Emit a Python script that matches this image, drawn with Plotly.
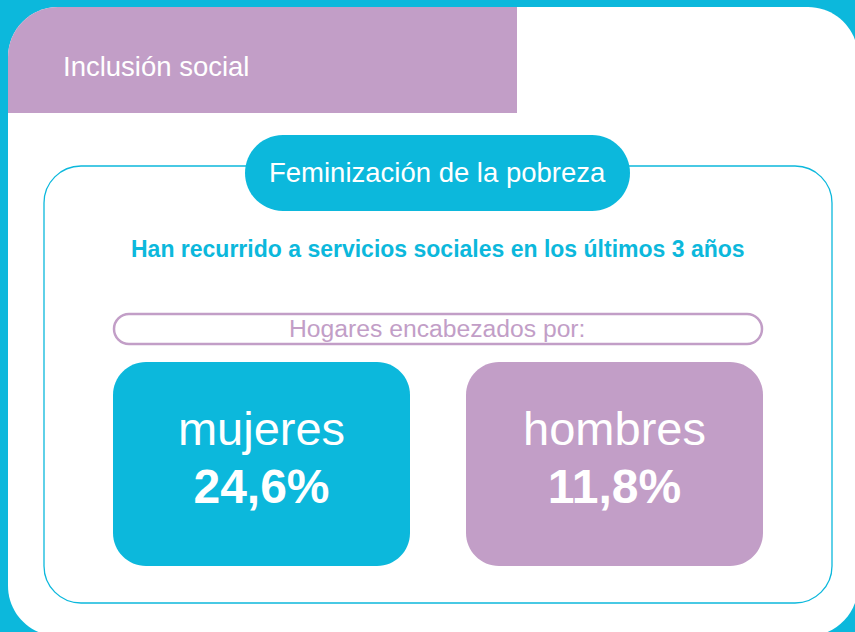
import plotly.graph_objects as go

# ---- data ----
categories = ["mujeres", "hombres"]
values = [24.6, 11.8]
value_labels = [f"{v:.1f}%".replace(".", ",") for v in values]
header_title = "Inclusión social"
section_title = "Feminización de la pobreza"
subtitle = "Han recurrido a servicios sociales en los últimos 3 años"
group_label = "Hogares encabezados por:"

# ---- style ----
CYAN = "#0cb8dc"
PURPLE = "#c29ec7"
WHITE = "#ffffff"
FONT = "Liberation Sans, Arial, Helvetica, sans-serif"
W, H = 855, 632
K = 0.5523


def rrect(x0, y0, x1, y1, r):
    tl, tr, br, bl = r
    p = f"M{x0 + tl},{y0} L{x1 - tr},{y0} "
    if tr:
        p += f"C{x1 - tr + tr * K},{y0} {x1},{y0 + tr - tr * K} {x1},{y0 + tr} "
    p += f"L{x1},{y1 - br} "
    if br:
        p += f"C{x1},{y1 - br + br * K} {x1 - br + br * K},{y1} {x1 - br},{y1} "
    p += f"L{x0 + bl},{y1} "
    if bl:
        p += f"C{x0 + bl - bl * K},{y1} {x0},{y1 - bl + bl * K} {x0},{y1 - bl} "
    p += f"L{x0},{y0 + tl} "
    if tl:
        p += f"C{x0},{y0 + tl - tl * K} {x0 + tl - tl * K},{y0} {x0 + tl},{y0} "
    return p + "Z"


def shape(path, fill=None, line=None, width=0):
    return dict(
        type="path", path=path, xref="x", yref="y", layer="below",
        fillcolor=fill if fill else "rgba(0,0,0,0)",
        line=dict(color=line if line else "rgba(0,0,0,0)", width=width),
    )


shapes = [
    shape(rrect(8, 7, 858, 636, (50, 50, 50, 50)), fill=WHITE),
    shape(rrect(8, 7, 517, 113, (50, 0, 0, 0)), fill=PURPLE),
    shape(rrect(44, 166, 832, 603, (37, 37, 37, 37)), line=CYAN, width=1.3),
    shape(rrect(245, 135, 630, 211, (38, 38, 38, 38)), fill=CYAN),
    shape(rrect(114, 314, 762, 344, (15, 15, 15, 15)), line=PURPLE, width=2.5),
]

box_x = [(113, 410), (466, 763)]
box_colors = [CYAN, PURPLE]
for (x0, x1), c in zip(box_x, box_colors):
    shapes.append(shape(rrect(x0, 362, x1, 566, (33, 33, 33, 33)), fill=c))

centers = [(a + b) / 2 for a, b in box_x]

fig = go.Figure()
fig.add_trace(go.Scatter(
    x=centers, y=[433, 433], mode="text", text=categories,
    textfont=dict(family=FONT, size=47, color=WHITE),
    hoverinfo="skip", showlegend=False,
))
fig.add_trace(go.Scatter(
    x=centers, y=[491, 491], mode="text", text=[f"<b>{t}</b>" for t in value_labels],
    textfont=dict(family=FONT, size=48, color=WHITE),
    hoverinfo="skip", showlegend=False,
))

annotations = [
    dict(x=61, y=66, text=header_title, xanchor="left", yanchor="middle",
         font=dict(family=FONT, size=27.5, color=WHITE)),
    dict(x=437.5, y=172, text=section_title, xanchor="center", yanchor="middle",
         font=dict(family=FONT, size=27.5, color=WHITE)),
    dict(x=438, y=249, text=f"<b>{subtitle}</b>", xanchor="center", yanchor="middle",
         font=dict(family=FONT, size=23, color=CYAN)),
    dict(x=437, y=328, text=group_label, xanchor="center", yanchor="middle",
         font=dict(family=FONT, size=24.7, color=PURPLE)),
]
for a in annotations:
    a.update(xref="x", yref="y", showarrow=False)

fig.update_layout(
    width=W, height=H, margin=dict(l=0, r=0, t=0, b=0),
    paper_bgcolor=CYAN, plot_bgcolor=CYAN,
    xaxis=dict(range=[0, W], visible=False, fixedrange=True),
    yaxis=dict(range=[H, 0], visible=False, fixedrange=True),
    shapes=shapes, annotations=annotations, showlegend=False,
)

fig.write_html(
    "out.html",
    config={"displayModeBar": False},
    post_script="document.body.style.margin='0';document.body.style.overflow='hidden';",
)
